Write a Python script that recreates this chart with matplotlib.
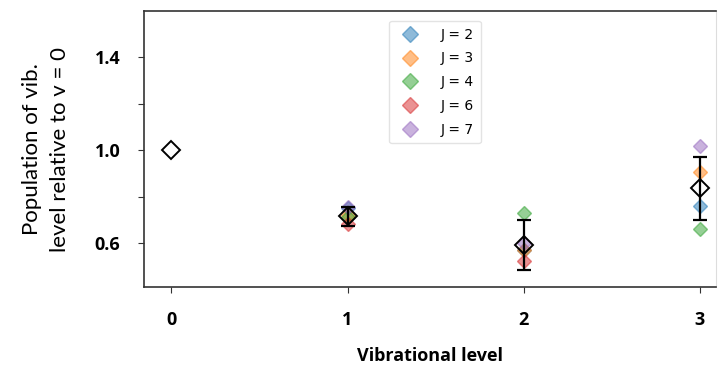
import numpy as np
import matplotlib
matplotlib.use('Agg')
from matplotlib import pyplot as plt

# data
vib = np.array([0, 1, 2, 3])
J_labels = ['J = 2', 'J = 3', 'J = 4', 'J = 6', 'J = 7']
J_colors = ['tab:blue', 'tab:orange', 'tab:green', 'tab:red', 'tab:purple']
pop_J2 = [np.nan, 0.75, 0.57, 0.76]
pop_J3 = [np.nan, 0.72, 0.57, 0.905]
pop_J4 = [np.nan, 0.71, 0.73, 0.66]
pop_J6 = [np.nan, 0.68, 0.52, np.nan]
pop_J7 = [np.nan, 0.755, 0.60, 1.02]
pop_mean = [1.0, 0.715, 0.59, 0.835]
pop_err = [np.nan, 0.042, 0.107, 0.137]

yticks = [0.6, 0.8, 1.0, 1.2, 1.4]
yticklabels = ['0.6', '', '1.0', '', '1.4']

fig = plt.figure(figsize=(7.18, 3.67), dpi=100)
ax = fig.add_axes([0.2006, 0.218, 0.7964, 0.752])

for pop, lab, col in zip([pop_J2, pop_J3, pop_J4, pop_J6, pop_J7], J_labels, J_colors):
    ax.plot(vib, pop, 'D', color=col, alpha=0.5, markersize=7, label=lab, linestyle='None')

ax.errorbar(vib[1:], pop_mean[1:], yerr=pop_err[1:], fmt='none', ecolor='black',
            elinewidth=1.6, capsize=5, capthick=1.6, zorder=4)
ax.plot(vib, pop_mean, 'D', markersize=9.5, markerfacecolor='none', markeredgecolor='black',
        markeredgewidth=1.4, linestyle='None', zorder=5)

ax.set_xlim(-0.155, 3.09)
ax.set_ylim(0.41, 1.6)
ax.set_xticks(vib)
ax.set_xticklabels([str(v) for v in vib], fontsize=13, fontweight='bold', family='Open Sans')
ax.set_yticks(yticks)
ax.set_yticklabels(yticklabels, fontsize=13, fontweight='bold', family='Open Sans')
ax.tick_params(axis='x', length=4, pad=13, color='#333333')
ax.tick_params(axis='y', length=4, pad=13, color='#333333')

for side in ['left', 'bottom', 'top']:
    ax.spines[side].set_color('#333333')
    ax.spines[side].set_linewidth(1.2)
ax.spines['right'].set_color('#dddddd')

ax.set_xlabel('Vibrational level', fontsize=13, fontweight='bold', family='Open Sans', labelpad=13)
ax.set_ylabel('Population of vib.\nlevel relative to v = 0', fontsize=16, family='Lato',
              labelpad=18, linespacing=1.45)

ax.legend(loc='upper center', bbox_to_anchor=(0.509, 0.99), fontsize=10, labelspacing=0.7,
          handletextpad=1.2, borderpad=0.5, framealpha=0.8, edgecolor='#dddddd', markerscale=1.1)

fig.savefig('out.png', dpi=100)
